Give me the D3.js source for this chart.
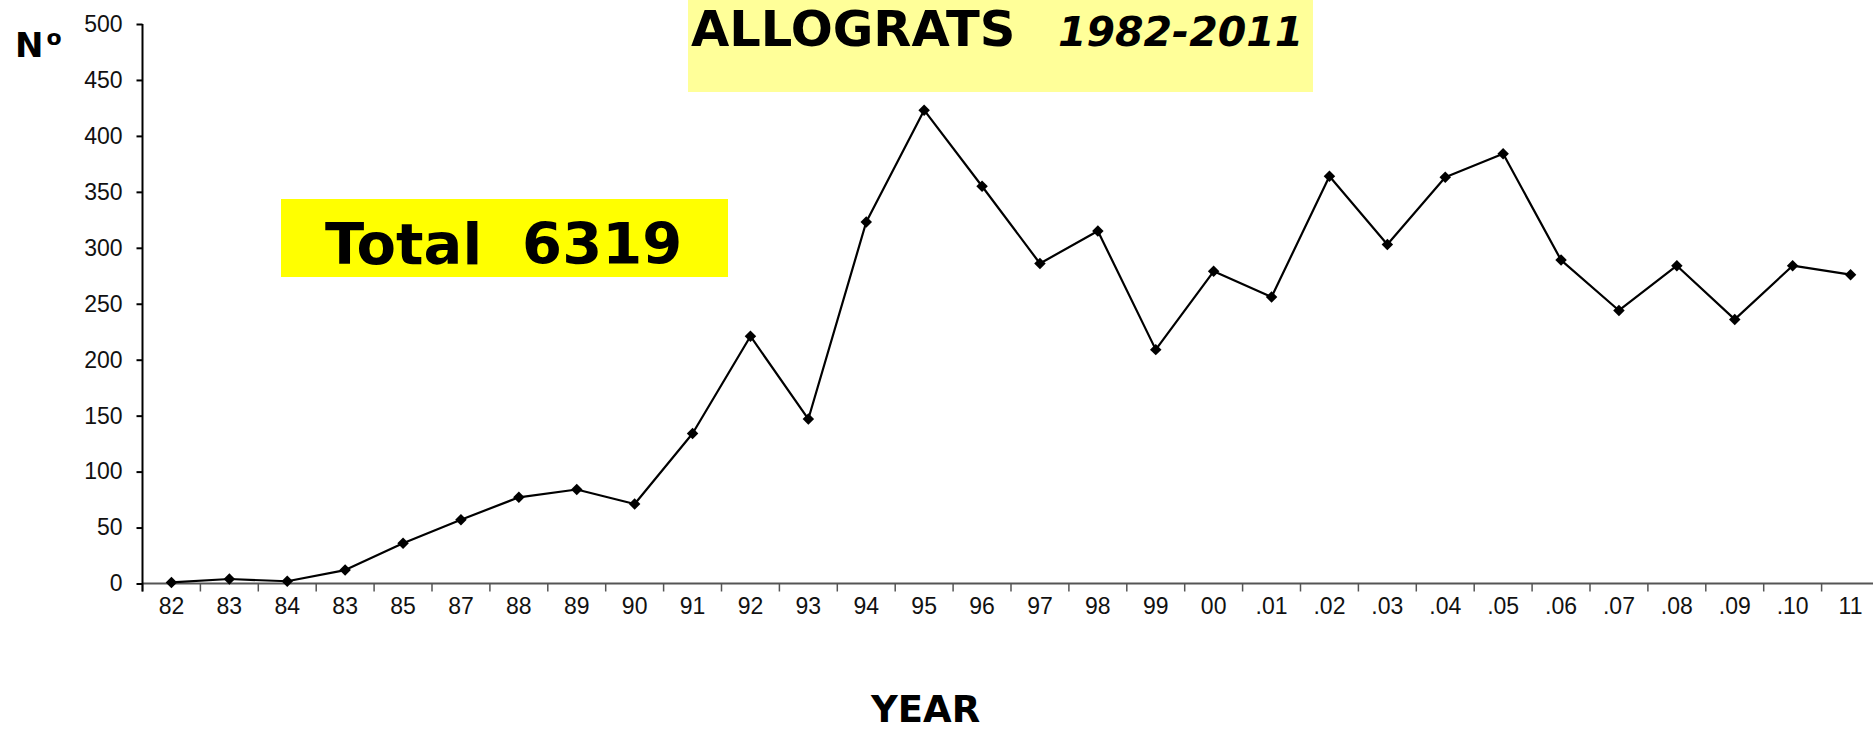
<!DOCTYPE html>
<html>
<head>
<meta charset="utf-8">
<script src="https://cdn.jsdelivr.net/npm/d3@7"></script>
<style>
body { margin:0; background:#fff; }
.axis text { font-family:"Liberation Sans", Arial, sans-serif; font-size:23px; fill:#111; }
.boldlbl { font-family:"DejaVu Sans", Verdana, sans-serif; font-weight:bold; fill:#000; }
</style>
</head>
<body>
<div id="chart"></div>
<script>
var years = ["82","83","84","83","85","87","88","89","90","91","92","93","94","95","96","97","98","99","00",".01",".02",".03",".04",".05",".06",".07",".08",".09",".10","11"];
var allografts = [1,4,2,12,36,57,77,84,71,134,221,147,323,423,355,286,315,209,279,256,364,303,363,384,289,244,284,236,284,276];
var yTicks = [0,50,100,150,200,250,300,350,400,450,500];

var draw_chart = function(){
	var svg = d3.select("#chart").append("svg").attr("width", 1873).attr("height", 731).append("g");

	// index based domain because "83" shows up twice
	var x = d3.scaleBand().domain(d3.range(years.length)).range([142.5, 142.5 + 30*57.9]);
	var y = d3.scaleLinear().domain([0,500]).range([583.5, 24]);

	// title boxes
	svg.append("rect").attr("x",688).attr("y",0).attr("width",625).attr("height",92).attr("fill","#ffff99");
	svg.append("rect").attr("x",281).attr("y",199).attr("width",447).attr("height",78).attr("fill","#ffff00");

	svg.append("text").attr("class","boldlbl").attr("x",691).attr("y",46).style("font-size","49.5px").text("ALLOGRATS");
	svg.append("text").attr("class","boldlbl").attr("x",1058).attr("y",46).style("font-size","41px").style("font-style","italic").text("1982-2011");
	svg.append("text").attr("class","boldlbl").attr("x",325).attr("y",264).style("font-size","57.5px").attr("xml:space","preserve").text("Total  6319");

	var xAxis = d3.axisBottom(x).tickSizeInner(8).tickSizeOuter(0).tickPadding(6).tickFormat(function(d){ return years[d]; });
	var yAxis = d3.axisLeft(y).tickValues(yTicks).tickSizeInner(6).tickSizeOuter(0).tickPadding(14);

	var gx = svg.append("g").attr("class","x axis").attr("transform","translate(0,583.5)").call(xAxis);
	gx.select(".domain").attr("stroke","#555").attr("stroke-width",2).attr("d","M142.5,0H1873");
	// ticks sit between the categories
	gx.selectAll(".tick line").attr("stroke","#555").attr("stroke-width",1.5).attr("transform","translate(" + (-x.step()/2) + ",0)");

	var gy = svg.append("g").attr("class","y axis").attr("transform","translate(142.5,0)").call(yAxis);
	gy.select(".domain").attr("stroke","#000").attr("stroke-width",2).attr("d","M0,24V591.5");
	gy.selectAll(".tick line").attr("stroke","#000").attr("stroke-width",2);

	var line = d3.line()
		.x(function(d,i){ return x(i) + x.bandwidth()/2; })
		.y(function(d){ return y(d); });

	svg.append("path").datum(allografts)
		.attr("fill","none")
		.attr("stroke","#000")
		.attr("stroke-width",2.2)
		.attr("stroke-linejoin","round")
		.attr("d",line);

	svg.append("g").selectAll(".pt").data(allografts).enter()
		.append("path").attr("class","pt")
		.attr("d", d3.symbol().type(d3.symbolSquare).size(66))
		.attr("transform", function(d,i){
			return "translate(" + (x(i) + x.bandwidth()/2) + "," + y(d) + ") rotate(45)";
		})
		.attr("fill","#000");

	var no = svg.append("text").attr("class","boldlbl").attr("x",15).attr("y",57).style("font-size","34px");
	no.append("tspan").text("N");
	no.append("tspan").attr("dx",3).attr("dy",-12).style("font-size","22px").text("o");

	svg.append("text").attr("class","boldlbl").attr("x",871).attr("y",722).style("font-size","37px").text("YEAR");
};

window.onload = function(){
	draw_chart();
};
</script>
</body>
</html>
